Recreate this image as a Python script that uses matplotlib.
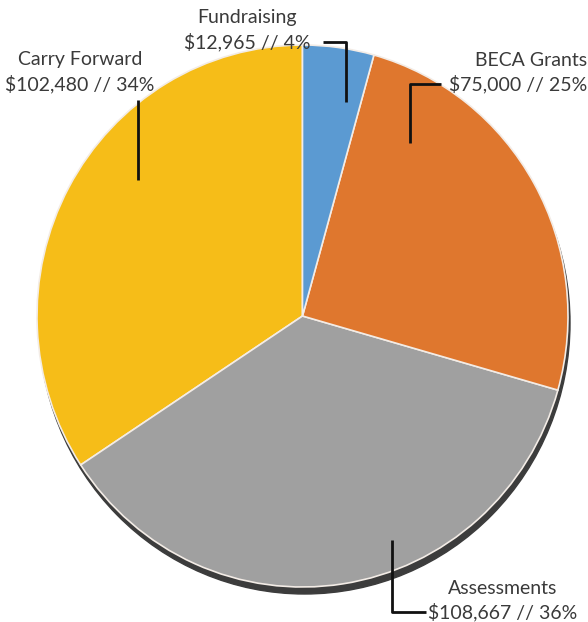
import matplotlib
matplotlib.use("Agg")
import matplotlib.pyplot as plt
from matplotlib.patches import Ellipse

labels = ["Carry Forward", "Assessments", "BECA Grants", "Fundraising"]
amounts = [102480, 108667, 75000, 12965]
pcts = [34, 36, 25, 4]
colors = ["#F6BD18", "#A0A0A0", "#DF772E", "#5B9AD2"]

W, H = 588, 622
# pie bounding box in pixels (slightly taller than wide, like the original)
left, right, top, bottom = 37, 568, 45, 587

fig = plt.figure(figsize=(W / 100, H / 100), dpi=100)

pax = fig.add_axes([left / W, (H - bottom) / H, (right - left) / W, (bottom - top) / H])
rx, ry = (right - left) / 2, (bottom - top) / 2
# drop shadow under the pie
pax.add_patch(Ellipse((2 / rx, -7 / ry), 2, 2, color="#3c3c3c", zorder=1, clip_on=False))
wedges, _ = pax.pie(amounts, colors=colors, startangle=90, counterclock=True,
                    center=(0, 0), radius=1, frame=True,
                    wedgeprops=dict(edgecolor="#f3ece6", linewidth=1.2, zorder=2))
for w in wedges:
    w.set_clip_on(False)
pax.set_xlim(-1, 1)
pax.set_ylim(-1, 1)
pax.set_aspect("auto")
pax.axis("off")

ax = fig.add_axes([0, 0, 1, 1])
ax.set_xlim(0, W)
ax.set_ylim(0, H)
ax.axis("off")
ax.patch.set_alpha(0)

# label layout: text anchor (x, y of second line), ha, and leader line path (pixel coords)
layout = {
    "Carry Forward": ((80, 84), "center", [(138, 100), (138, 180)]),
    "Assessments": ((503, 612), "center", [(392, 540), (392, 612), (426, 612)]),
    "BECA Grants": ((587, 84), "right", [(441, 84), (410, 84), (410, 143)]),
    "Fundraising": ((247, 42), "center", [(323, 42), (346, 42), (346, 102)]),
}

font = dict(family="Lato", fontsize=14, color="#3a3a3a")
for name, amt, p in zip(labels, amounts, pcts):
    (tx, ty), ha, path = layout[name]
    ax.text(tx, H - ty + 24, name, ha=ha, va="center", **font)
    ax.text(tx, H - ty, f"${amt:,} // {p}%", ha=ha, va="center", **font)
    xs = [q[0] for q in path]
    ys = [H - q[1] for q in path]
    ax.plot(xs, ys, color="#111111", lw=2, zorder=5, solid_capstyle="butt")

fig.savefig("out.png", dpi=100, facecolor="white")
